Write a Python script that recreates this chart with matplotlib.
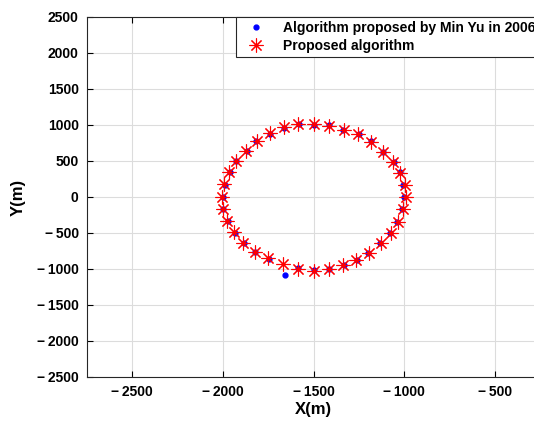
import numpy as np
import matplotlib
matplotlib.use('Agg')
import matplotlib.pyplot as plt
import matplotlib.ticker as ticker

plt.rcParams['font.family'] = ['Liberation Sans', 'DejaVu Sans']
plt.rcParams['font.weight'] = 'bold'

# points (metres)
x_minyu = [-1497, -1582, -1663, -1742, -1815, -1868, -1928, -1962, -1990, -2002,
           -1998, -1972, -1935, -1884, -1822, -1748, -1656, -1588, -1500, -1413,
           -1333, -1262, -1199, -1131, -1079, -1037, -1013, -1000, -1004, -1022,
           -1058, -1115, -1182, -1250, -1335, -1412]
y_minyu = [1004, 1010, 965, 880, 775, 640, 497, 343, 172, 2,
           -170, -336, -498, -644, -760, -862, -1083, -993, -1008, -995,
           -938, -871, -780, -645, -500, -341, -168, -2, 170, 342,
           490, 628, 771, 880, 925, 995]

x_prop = [-1500, -1583, -1664, -1741, -1811, -1871, -1925, -1967, -1993, -2004,
          -2002, -1978, -1939, -1888, -1823, -1750, -1671, -1588, -1500, -1417,
          -1335, -1263, -1195, -1129, -1075, -1031, -1004, -991, -996, -1020,
          -1061, -1116, -1180, -1257, -1333, -1415]
y_prop = [1009, 1014, 968, 884, 773, 644, 500, 347, 176, 5,
          -167, -329, -491, -634, -759, -852, -935, -995, -1023, -1005,
          -940, -875, -778, -644, -505, -343, -171, 0, 167, 338,
          486, 620, 759, 870, 931, 991]

x_ticks = [-2500, -2000, -1500, -1000, -500]
y_ticks = [-2500, -2000, -1500, -1000, -500, 0, 500, 1000, 1500, 2000, 2500]


def minus_fmt(v, pos):
    # matlab style minus with a small gap
    if v < 0:
        return '\u2212\u2009' + str(int(abs(v)))
    return str(int(v))


fig = plt.figure(figsize=(5.34, 4.26), dpi=100)
W, H = 534, 426
ax = fig.add_axes([87 / W, (H - 377) / H, (540 - 87) / W, 360 / H])

ax.plot(x_minyu, y_minyu, linestyle='none', marker='.', color='#0000ff',
        markersize=7, label='Algorithm proposed by Min Yu in 2006')
ax.plot(x_prop, y_prop, linestyle='none', marker=(8, 2, 0), color='#ff0000',
        markeredgecolor='#ff0000', markersize=10, markeredgewidth=0.8,
        label='Proposed algorithm')

ax.set_xlim(-2750, -250)
ax.set_ylim(-2500, 2500)
ax.set_xticks(x_ticks)
ax.set_yticks(y_ticks)
ax.xaxis.set_major_formatter(ticker.FuncFormatter(minus_fmt))
ax.yaxis.set_major_formatter(ticker.FuncFormatter(minus_fmt))
ax.grid(True, color='#dcdcdc', linewidth=0.8)
ax.set_axisbelow(True)

ax.tick_params(direction='in', length=4, width=0.8, top=True, right=True,
               labelsize=10, pad=6)
for lab in ax.get_xticklabels() + ax.get_yticklabels():
    lab.set_fontweight('bold')
for sp in ax.spines.values():
    sp.set_linewidth(0.8)
    sp.set_color('#262626')

ax.set_xlabel('X(m)', fontsize=12, fontweight='bold', labelpad=2)
ax.set_ylabel('Y(m)', fontsize=12, fontweight='bold', labelpad=8)

leg = ax.legend(loc='upper right', bbox_to_anchor=(1.0, 1.0), borderaxespad=0,
                fancybox=False, edgecolor='#262626', framealpha=1,
                prop={'size': 10, 'weight': 'bold'}, handletextpad=0.8,
                borderpad=0.3, labelspacing=0.25, handlelength=2.3)
leg.get_frame().set_linewidth(0.8)

fig.savefig('out.png', dpi=100)
